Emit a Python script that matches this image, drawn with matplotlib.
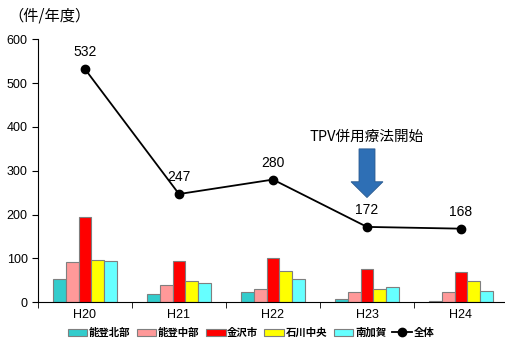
"""件数の推移（地域別・全体）"""
import numpy as np
import matplotlib
matplotlib.use('Agg')
import matplotlib.pyplot as plt
from matplotlib.patches import FancyArrow

plt.rcParams['font.family'] = ['Noto Sans CJK JP', 'DejaVu Sans']

years = ['H20', 'H21', 'H22', 'H23', 'H24']
regions = ['能登北部', '能登中部', '金沢市', '石川中央', '南加賀']
noto_hokubu = [53, 20, 23, 7, 4]
noto_chubu = [92, 40, 30, 24, 23]
kanazawa = [195, 95, 101, 77, 68]
ishikawa_chuo = [97, 48, 72, 30, 48]
minami_kaga = [95, 44, 54, 34, 25]
total = [532, 247, 280, 172, 168]
colors = ['#33CCCC', '#FF9999', '#FF0000', '#FFFF00', '#66FFFF']

fig = plt.figure(figsize=(5.05, 3.44), dpi=100)
ax = fig.add_axes([38 / 505, 41.7 / 344, 470 / 505, 263 / 344])

x = np.arange(len(years))
w = 0.138
series = [noto_hokubu, noto_chubu, kanazawa, ishikawa_chuo, minami_kaga]
for i, (vals, name, c) in enumerate(zip(series, regions, colors)):
    ax.bar(x + (i - 2) * w, vals, w, color=c, edgecolor='#7f7f7f',
           linewidth=0.8, label=name, zorder=2)

ax.plot(x, total, color='black', marker='o', markersize=6, linewidth=1.3,
        label='全体', zorder=3)
for xi, v in zip(x, total):
    ax.text(xi, v + 22, str(v), ha='center', va='bottom', fontsize=10,
            family=['Liberation Sans', 'DejaVu Sans'])

# 療法開始の矢印
ax.add_patch(FancyArrow(3, 350, 0, -111, width=0.17, head_width=0.34,
                        head_length=36, length_includes_head=True,
                        facecolor='#2E6FB5', edgecolor='#2A5A8F', linewidth=0.6,
                        zorder=4))
ax.text(3, 362, 'TPV併用療法開始', ha='center', va='bottom', fontsize=10.5)

ax.set_xlim(-0.5, 4.5)
ax.set_ylim(0, 600)
ax.set_yticks(range(0, 601, 100))
ax.set_xticks(x)
ax.set_xticklabels(years)
ax.set_xticks(np.arange(-0.5, 4.6, 1), minor=True)
ax.tick_params(axis='x', which='major', length=0, pad=5)
ax.tick_params(axis='x', which='minor', length=4, direction='out')
ax.tick_params(axis='y', length=4, direction='out')
for lab in ax.get_xticklabels() + ax.get_yticklabels():
    lab.set_fontfamily(['Liberation Sans', 'DejaVu Sans'])
    lab.set_fontsize(9)
for s in ['top', 'right']:
    ax.spines[s].set_visible(False)

fig.text(8 / 505, 1 - 16 / 344, '（件/年度）', fontsize=11, va='center', ha='left')

handles, labels = ax.get_legend_handles_labels()
order = [1, 2, 3, 4, 5, 0]
fig.legend([handles[i] for i in order], [labels[i] for i in order],
           loc='center', bbox_to_anchor=(0.497, 1 - 333 / 344), ncol=6,
           frameon=False, prop={'size': 7.5, 'weight': 'bold'},
           handlelength=1.9, handleheight=0.8,
           handletextpad=0.15, columnspacing=0.6, borderaxespad=0)

fig.savefig('out.png', dpi=100)
